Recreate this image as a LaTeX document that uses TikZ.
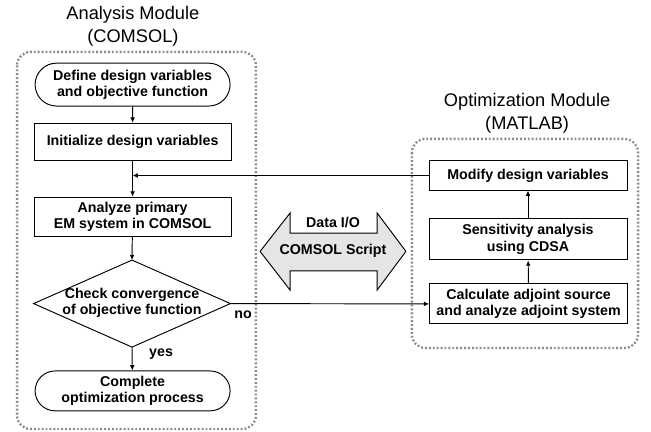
\documentclass[tikz,border=0pt]{standalone}
\usepackage{fontspec}
\setmainfont{Liberation Sans}
\usetikzlibrary{
    arrows.meta,
    shapes.misc,
    calc,
    positioning
}
\tikzset{
    flow/.style={line width=0.9pt, -{Latex[length=5pt,width=4.5pt]}},
    procbox/.style={draw, line width=0.9pt, minimum width=6.57cm, align=center,
        font=\fontsize{13.5}{15.5}\selectfont\bfseries, inner sep=1pt},
    termbox/.style={procbox, rounded rectangle, minimum height=1.38cm},
    modframe/.style={draw=gray!90, line width=2.2pt, dash pattern=on 1.8pt off 1.9pt,
        rounded corners=0.45cm},
    modtitle/.style={align=center, font=\fontsize{17.3}{21.7}\selectfont},
    tag/.style={font=\fontsize{13.5}{15.5}\selectfont\bfseries}
}

\begin{document}
\begin{tikzpicture}
    \useasboundingbox (0, 0) rectangle (21.7, -14.4);
    % module frames
    \draw[modframe] (0.57, -1.73) rectangle (8.53, -14.3);
    \draw[modframe] (13.73, -4.63) rectangle (21.27, -11.6);
    \node[modtitle] (antitle) at (4.43, -0.88) {Analysis Module\\(COMSOL)};
    \node[modtitle] (optitle) at (17.57, -3.77) {Optimization Module\\(MATLAB)};
    % analysis side
    \node[termbox, minimum height=1.43cm] (define) at (4.42, -2.82) {Define design variables\\and objective function};
    \node[procbox, minimum height=1.23cm] (init) at (4.42, -4.72) {Initialize design variables};
    \node[procbox, minimum height=1.3cm] (analyze) at (4.42, -7.22) {Analyze primary\\EM system in COMSOL};
    \node[tag, align=center] (check) at (4.4, -10.1) {Check convergence\\of objective function};
    \coordinate (checkN) at (4.4, -8.67);
    \coordinate (checkS) at (4.4, -11.57);
    \coordinate (checkW) at (1.12, -10.12);
    \coordinate (checkE) at (7.68, -10.12);
    \draw[line width=0.9pt] (checkN) -- (checkE) -- (checkS) -- (checkW) -- cycle;
    \node[termbox, minimum height=1.33cm] (complete) at (4.42, -13.03) {Complete\\optimization process};
    % optimization side
    \node[procbox, minimum width=6.6cm, minimum height=0.97cm] (modify) at (17.6, -5.85) {Modify design variables};
    \node[procbox, minimum width=6.6cm, minimum height=1.37cm] (sens) at (17.6, -7.98) {Sensitivity analysis\\using CDSA};
    \node[procbox, minimum width=6.6cm, minimum height=1.33cm] (adjoint) at (17.62, -10.13) {Calculate adjoint source\\and analyze adjoint system};
    % data exchange
    \draw[line width=0.9pt, fill=gray!20]
    (8.67, -8.38) -- (9.67, -7.1) -- (9.67, -7.77) -- (12.57, -7.77) -- (12.57, -7.1)
    -- (13.53, -8.38) -- (12.57, -9.67) -- (12.57, -9.03) -- (9.67, -9.03) -- (9.67, -9.67) -- cycle;
    \node[tag] (dataio) at (11.1, -7.4) {Data I/O};
    \node[tag] (script) at (11.1, -8.37) {COMSOL Script};
    % connectors
    \draw[flow] (define) -- (init);
    \draw[flow] (init) -- (analyze);
    \draw[flow] (analyze) -- (checkN);
    \draw[flow] (checkS) -- (complete);
    \draw[flow] (checkE) -- (adjoint.west);
    \draw[flow] (adjoint) -- (sens);
    \draw[flow] (sens) -- (modify);
    \draw[flow] (modify.west) -- (modify.west -| init.south);
    \node[tag] (no) at (8.1, -10.5) {no};
    \node[tag] (yes) at (5.37, -11.8) {yes};
\end{tikzpicture}
\end{document}
